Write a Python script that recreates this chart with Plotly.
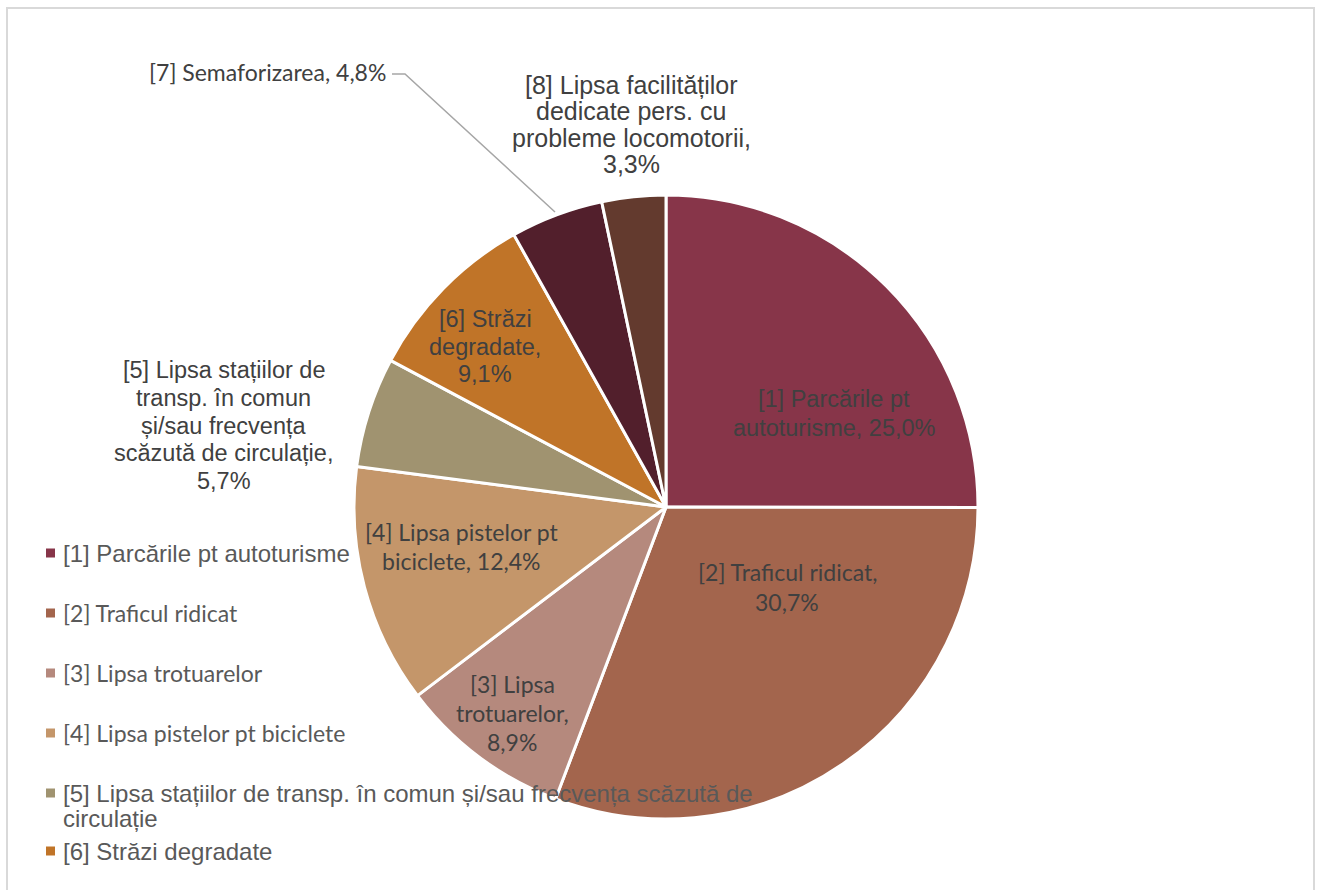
import plotly.graph_objects as go

# ---- data ----
categories = [
    "[1] Parcările pt autoturisme",
    "[2] Traficul ridicat",
    "[3] Lipsa trotuarelor",
    "[4] Lipsa pistelor pt biciclete",
    "[5] Lipsa stațiilor de transp. în comun și/sau frecvența scăzută de circulație",
    "[6] Străzi degradate",
    "[7] Semaforizarea",
    "[8] Lipsa facilităților dedicate pers. cu probleme locomotorii",
]
values = [25.0, 30.7, 8.9, 12.4, 5.7, 9.1, 4.8, 3.3]
colors = ["#873549", "#A3654D", "#B5897D", "#C4966A", "#A09370", "#C07428", "#521F2C", "#633A2E"]

# wrapped label lines as shown on the chart; "{v}" is replaced by the slice value
label_lines = [
    ["[1] Parcările pt", "autoturisme, {v}"],
    ["[2] Traficul ridicat,", "{v}"],
    ["[3] Lipsa", "trotuarelor,", "{v}"],
    ["[4] Lipsa pistelor pt", "biciclete, {v}"],
    ["[5] Lipsa stațiilor de", "transp. în comun", "și/sau frecvența", "scăzută de circulație,", "{v}"],
    ["[6] Străzi", "degradate,", "{v}"],
    ["[7] Semaforizarea, {v}"],
    ["[8] Lipsa facilităților", "dedicate pers. cu", "probleme locomotorii,", "{v}"],
]
legend_lines = [
    ["[1] Parcările pt autoturisme"],
    ["[2] Traficul ridicat"],
    ["[3] Lipsa trotuarelor"],
    ["[4] Lipsa pistelor pt biciclete"],
    ["[5] Lipsa stațiilor de transp. în comun și/sau frecvența scăzută de", "circulație"],
    ["[6] Străzi degradate"],
]

W, H = 1317, 890
ARIAL = 'Arial, "Liberation Sans", sans-serif'
HUMAN = "Lato, sans-serif"
# (font, size, line spacing)
label_style = [(ARIAL, 23.5, 28.5), (HUMAN, 23, 30), (HUMAN, 23, 29), (HUMAN, 23, 29),
               (ARIAL, 23.5, 27.75), (ARIAL, 23.5, 27.5), (HUMAN, 23, 28), (ARIAL, 25, 26.3)]
label_pos = [(834, 413.5, "center"), (787, 587, "center"), (512, 713, "center"), (461, 546.5, "center"),
             (224, 425.5, "center"), (485, 346.5, "center"), (388, 72, "right"), (631, 124.5, "center")]
legend_style = [(ARIAL, 24), (HUMAN, 23), (HUMAN, 23), (HUMAN, 23), (ARIAL, 24), (ARIAL, 24)]
legend_y = [553, 613, 673, 733, 793, 851]
legend_gap = 25

cx, cy, r = 666, 507, 312

fig = go.Figure(go.Pie(
    labels=categories, values=values, sort=False, direction="clockwise", rotation=0,
    marker=dict(colors=colors, line=dict(color="white", width=3)),
    textinfo="none", hoverinfo="label+percent", showlegend=False,
    domain=dict(x=[(cx - r) / W, (cx + r) / W], y=[(H - cy - r) / H, (H - cy + r) / H]),
))

def fmt(v):
    return f"{v:.1f}%".replace(".", ",")

annotations = []
for i, lines in enumerate(label_lines):
    x, y, al = label_pos[i]
    fam, size, gap = label_style[i]
    n = len(lines)
    for k, ln in enumerate(lines):
        yy = y + (k - (n - 1) / 2) * gap
        annotations.append(dict(
            x=x / W, y=1 - yy / H, xref="paper", yref="paper",
            text=ln.replace("{v}", fmt(values[i])), showarrow=False,
            xanchor="right" if al == "right" else "center", yanchor="middle",
            font=dict(family=fam, size=size, color="#404040"),
        ))

shapes = [
    dict(type="rect", xref="paper", yref="paper", x0=7 / W, x1=1314 / W, y0=1 - 905 / H, y1=1 - 8 / H,
         line=dict(color="#D9D9D9", width=2), fillcolor="rgba(0,0,0,0)", layer="above"),
    dict(type="path", xref="paper", yref="paper",
         path=f"M {392/W} {1-74/H} L {405/W} {1-74/H} L {555/W} {1-212/H}",
         line=dict(color="#A6A6A6", width=1.5)),
]

for i, lines in enumerate(legend_lines):
    y = legend_y[i]
    fam, size = legend_style[i]
    shapes.append(dict(type="rect", xref="paper", yref="paper",
                       x0=46 / W, x1=55 / W, y0=1 - (y + 4.5) / H, y1=1 - (y - 4.5) / H,
                       fillcolor=colors[i], line=dict(width=0), layer="above"))
    for k, ln in enumerate(lines):
        annotations.append(dict(
            x=61 / W, y=1 - (y + k * legend_gap) / H, xref="paper", yref="paper", text=ln,
            showarrow=False, xanchor="left", yanchor="middle",
            font=dict(family=fam, size=size, color="#595959"),
        ))

fig.update_layout(
    width=W, height=H, margin=dict(l=0, r=0, t=0, b=0),
    paper_bgcolor="white", plot_bgcolor="white",
    annotations=annotations, shapes=shapes,
)

fig.write_html("out.html")
